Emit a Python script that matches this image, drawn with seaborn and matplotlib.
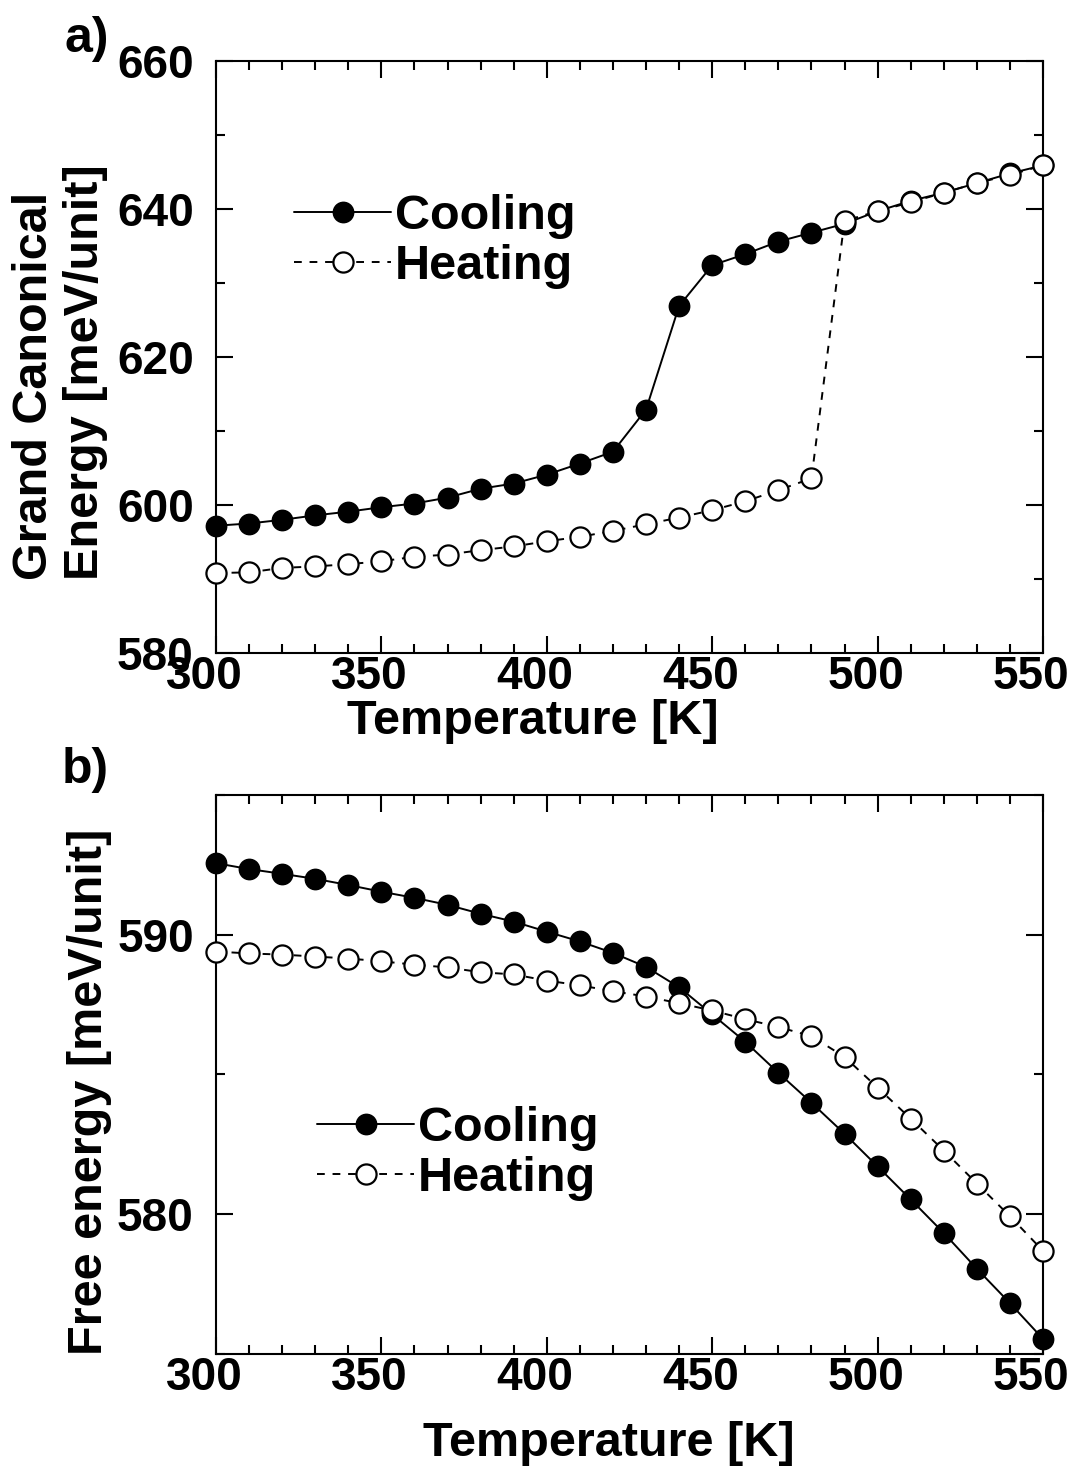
import numpy as np
import pandas as pd
import matplotlib
matplotlib.use("Agg")
import matplotlib.pyplot as plt
from matplotlib.ticker import MultipleLocator
from matplotlib.lines import Line2D
from matplotlib.transforms import ScaledTranslation
import seaborn as sns

# ---------------- data ----------------
temperature = [300, 310, 320, 330, 340, 350, 360, 370, 380, 390, 400, 410, 420,
               430, 440, 450, 460, 470, 480, 490, 500, 510, 520, 530, 540, 550]

grand_cooling = [597.2, 597.5, 598.0, 598.6, 599.1, 599.7, 600.2, 601.0, 602.2, 602.9,
                 604.1, 605.6, 607.2, 612.9, 626.9, 632.4, 633.9, 635.6, 636.8, 638.0,
                 639.7, 641.1, 642.2, 643.5, 644.8, 645.9]
grand_heating = [590.8, 590.9, 591.5, 591.7, 592.0, 592.4, 593.0, 593.3, 593.9, 594.4,
                 595.1, 595.7, 596.5, 597.4, 598.3, 599.3, 600.5, 602.0, 603.6, 638.4,
                 639.7, 640.9, 642.2, 643.5, 644.6, 645.9]

free_cooling = [592.56, 592.35, 592.18, 592.0, 591.78, 591.54, 591.32, 591.07, 590.75,
                590.47, 590.11, 589.76, 589.35, 588.85, 588.12, 587.15, 586.17, 585.06,
                583.99, 582.88, 581.71, 580.53, 579.33, 578.05, 576.82, 575.54]
free_heating = [589.40, 589.33, 589.29, 589.22, 589.15, 589.05, 588.93, 588.83, 588.66,
                588.58, 588.36, 588.19, 587.98, 587.79, 587.55, 587.29, 586.98, 586.70,
                586.37, 585.63, 584.53, 583.42, 582.28, 581.10, 579.93, 578.69]

series_labels = ["Cooling", "Heating"]
panel_labels = ["a)", "b)"]
xlabel = "Temperature [K]"
ylabel_top = "Grand Canonical\nEnergy [meV/unit]"
ylabel_bottom = "Free energy [meV/unit]"

# ---------------- style ----------------
sns.set_theme(style="ticks")
plt.rcParams["font.family"] = ["Liberation Sans", "DejaVu Sans"]
plt.rcParams["font.weight"] = "bold"
plt.rcParams["axes.labelweight"] = "bold"
for k in ("text.color", "axes.labelcolor", "xtick.color", "ytick.color",
          "axes.edgecolor"):
    plt.rcParams[k] = "black"

W, H = 1078, 1471
fig = plt.figure(figsize=(W / 100, H / 100), dpi=100, facecolor="white")

def px_axes(left, top, right, bottom):
    return fig.add_axes([left / W, 1 - bottom / H, (right - left) / W, (bottom - top) / H])

ax1 = px_axes(216, 61, 1043, 653)
ax2 = px_axes(216, 795, 1043, 1354)

LW = 1.4
MS = 14.5
cool_kw = dict(color="black", linestyle="-", linewidth=LW, marker="o", markersize=MS,
               markerfacecolor="black", markeredgecolor="black", markeredgewidth=1.2)
heat_kw = dict(color="black", linewidth=LW, marker="o", markersize=MS,
               markerfacecolor="white", markeredgecolor="black", markeredgewidth=1.6)

def draw(ax, cool, heat):
    df = pd.DataFrame({"T": temperature, "cool": cool, "heat": heat})
    sns.lineplot(data=df, x="T", y="cool", ax=ax, clip_on=False, zorder=3, **cool_kw)
    sns.lineplot(data=df, x="T", y="heat", ax=ax, clip_on=False, zorder=4,
                 dashes=False, **heat_kw)
    ax.lines[-1].set_dashes([4, 4])

draw(ax1, grand_cooling, grand_heating)
draw(ax2, free_cooling, free_heating)

TICK_FS = 33
LABEL_FS = 35

for ax in (ax1, ax2):
    ax.set_xlim(300, 550)
    ax.xaxis.set_major_locator(MultipleLocator(50))
    ax.xaxis.set_minor_locator(MultipleLocator(10))
    ax.tick_params(which="both", direction="in", top=True, right=True,
                   width=1.5, color="black")
    ax.tick_params(which="major", length=12.5)
    ax.tick_params(which="minor", length=6.5)
    ax.tick_params(axis="x", pad=1.5, labelsize=TICK_FS)
    ax.tick_params(axis="y", pad=16, labelsize=TICK_FS)
    for sp in ax.spines.values():
        sp.set_linewidth(1.5)
        sp.set_color("black")
    ax.set_facecolor("white")
    ax.set_ylabel("")
    ax.set_xlabel(xlabel, fontsize=LABEL_FS, fontweight="bold")

ax1.set_ylim(580, 660)
ax1.yaxis.set_major_locator(MultipleLocator(20))
ax1.yaxis.set_minor_locator(MultipleLocator(10))
ax2.set_ylim(575, 595)
ax2.yaxis.set_major_locator(MultipleLocator(10))
ax2.yaxis.set_minor_locator(MultipleLocator(5))

shift = ScaledTranslation(-12 / 100, 0, fig.dpi_scale_trans)
for ax in (ax1, ax2):
    for lab in ax.get_xticklabels() + ax.get_yticklabels():
        lab.set_fontweight("bold")
        lab.set_color("black")
    for lab in ax.get_xticklabels():
        lab.set_transform(lab.get_transform() + shift)

# x label positions (axes fraction)
ax1.xaxis.set_label_coords((533 - 216) / 827, -(722 - 653) / 592)
ax1.xaxis.label.set_va("center")
ax2.xaxis.set_label_coords((609 - 216) / 827, -(1443 - 1354) / 559)
ax2.xaxis.label.set_va("center")

# y labels
fig.text(60 / W, 1 - 372 / H, ylabel_top, rotation=90, ha="center", va="center",
         multialignment="left", fontsize=LABEL_FS, fontweight="bold", linespacing=1.15)
fig.text(90 / W, 1 - 1092 / H, ylabel_bottom, rotation=90, ha="center", va="center",
         fontsize=LABEL_FS, fontweight="bold")

# panel labels
fig.text(64 / W, 1 - 52 / H, panel_labels[0], fontsize=36, fontweight="bold",
         ha="left", va="baseline")
fig.text(62 / W, 1 - 783 / H, panel_labels[1], fontsize=36, fontweight="bold",
         ha="left", va="baseline")

# legends
def legend(ax, x, y):
    h_cool = Line2D([], [], **cool_kw)
    h_heat = Line2D([], [], **heat_kw)
    h_heat.set_dashes([4, 4])
    leg = ax.legend([h_cool, h_heat], series_labels, loc="upper left",
                    bbox_to_anchor=(x, y), frameon=False, fontsize=LABEL_FS,
                    handlelength=2.0, handletextpad=0.08, labelspacing=0.1,
                    borderpad=0, borderaxespad=0)
    for t in leg.get_texts():
        t.set_fontweight("bold")
        t.set_color("black")

legend(ax1, (294 - 216) / 827, (653 - 194) / 592)
legend(ax2, (317 - 216) / 827, (1354 - 1106) / 559)

fig.savefig("out.png", dpi=100, facecolor="white")
